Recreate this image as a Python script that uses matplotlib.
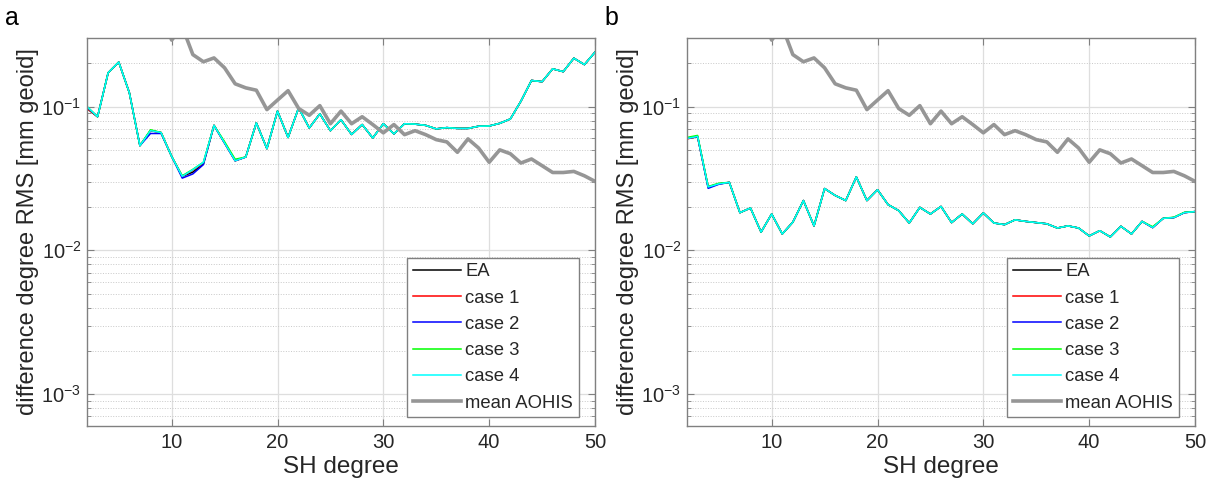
import matplotlib
matplotlib.use('Agg')
import matplotlib.pyplot as plt
from matplotlib.ticker import LogLocator, NullFormatter, MultipleLocator

plt.rcParams['font.family'] = ['Liberation Sans', 'DejaVu Sans']
plt.rcParams['mathtext.fontset'] = 'custom'
plt.rcParams['mathtext.rm'] = 'Liberation Sans'
plt.rcParams['mathtext.it'] = 'Liberation Sans:italic'

degree = list(range(2, 51))

# panel a
ea_a = [0.097, 0.085, 0.172, 0.204, 0.125, 0.0535, 0.068, 0.066, 0.045, 0.0327,
        0.035, 0.040, 0.074, 0.0558, 0.042, 0.0446, 0.077, 0.051, 0.093, 0.061,
        0.098, 0.071, 0.089, 0.068, 0.081, 0.064, 0.075, 0.0605, 0.076, 0.0646,
        0.076, 0.0755, 0.074, 0.070, 0.0714, 0.0705, 0.0705, 0.073, 0.0733, 0.0765,
        0.082, 0.109, 0.152, 0.149, 0.183, 0.175, 0.217, 0.196, 0.239]
case1_a = [0.097, 0.085, 0.172, 0.204, 0.125, 0.0535, 0.068, 0.066, 0.045, 0.0327,
           0.0362, 0.0405, 0.074, 0.0558, 0.042, 0.0446, 0.077, 0.051, 0.093, 0.061,
           0.098, 0.071, 0.089, 0.068, 0.081, 0.064, 0.075, 0.0605, 0.076, 0.0646,
           0.076, 0.0755, 0.074, 0.070, 0.0714, 0.0705, 0.0705, 0.073, 0.0733, 0.0765,
           0.082, 0.109, 0.152, 0.149, 0.183, 0.175, 0.217, 0.196, 0.239]
case2_a = [0.099, 0.085, 0.172, 0.204, 0.125, 0.0535, 0.065, 0.065, 0.045, 0.0318,
           0.034, 0.0395, 0.074, 0.0558, 0.042, 0.0446, 0.077, 0.051, 0.093, 0.061,
           0.098, 0.071, 0.089, 0.068, 0.081, 0.064, 0.075, 0.0605, 0.076, 0.0646,
           0.076, 0.0755, 0.074, 0.070, 0.0714, 0.0705, 0.0705, 0.073, 0.0733, 0.0765,
           0.082, 0.109, 0.152, 0.149, 0.183, 0.175, 0.217, 0.196, 0.239]
case3_a = [0.100, 0.085, 0.172, 0.204, 0.125, 0.0535, 0.069, 0.066, 0.045, 0.0330,
           0.0366, 0.041, 0.074, 0.057, 0.043, 0.0446, 0.077, 0.051, 0.093, 0.061,
           0.098, 0.071, 0.089, 0.068, 0.081, 0.064, 0.075, 0.0605, 0.076, 0.0646,
           0.076, 0.0755, 0.074, 0.070, 0.0714, 0.0705, 0.0705, 0.073, 0.0733, 0.0765,
           0.082, 0.109, 0.152, 0.149, 0.183, 0.175, 0.217, 0.196, 0.239]
case4_a = [0.100, 0.085, 0.172, 0.204, 0.125, 0.0535, 0.068, 0.066, 0.045, 0.0327,
           0.0364, 0.041, 0.074, 0.0558, 0.042, 0.0446, 0.077, 0.051, 0.093, 0.061,
           0.098, 0.071, 0.089, 0.068, 0.081, 0.064, 0.075, 0.0605, 0.076, 0.0646,
           0.076, 0.0755, 0.074, 0.070, 0.0714, 0.0705, 0.0705, 0.073, 0.0733, 0.0765,
           0.082, 0.109, 0.152, 0.149, 0.183, 0.175, 0.217, 0.196, 0.239]

# panel b
ea_b = [0.060, 0.0615, 0.0276, 0.029, 0.0297, 0.0183, 0.0197, 0.0134, 0.0179, 0.0130,
        0.0157, 0.0222, 0.0148, 0.0269, 0.0241, 0.0222, 0.0324, 0.0222, 0.0264, 0.0208,
        0.0189, 0.0155, 0.0199, 0.0179, 0.0202, 0.0156, 0.0179, 0.0153, 0.0182, 0.0155,
        0.0151, 0.0163, 0.0159, 0.0156, 0.0153, 0.0143, 0.0148, 0.0143, 0.0126, 0.0137,
        0.0124, 0.0147, 0.0130, 0.0159, 0.0144, 0.0167, 0.0169, 0.0183, 0.0186]
case1_b = [0.0595, 0.062, 0.0276, 0.029, 0.0297, 0.0183, 0.0197, 0.0134, 0.0179, 0.0130,
           0.0157, 0.0222, 0.0148, 0.0269, 0.0241, 0.0222, 0.0324, 0.0222, 0.0264, 0.0208,
           0.0189, 0.0155, 0.0199, 0.0179, 0.0202, 0.0156, 0.0179, 0.0153, 0.0182, 0.0155,
           0.0151, 0.0163, 0.0159, 0.0156, 0.0153, 0.0143, 0.0148, 0.0143, 0.0126, 0.0137,
           0.0124, 0.0147, 0.0130, 0.0159, 0.0144, 0.0167, 0.0169, 0.0183, 0.0186]
case2_b = [0.060, 0.062, 0.0270, 0.0288, 0.0297, 0.0183, 0.0197, 0.0134, 0.0179, 0.0130,
           0.0157, 0.0222, 0.0148, 0.0269, 0.0241, 0.0222, 0.0324, 0.0222, 0.0264, 0.0208,
           0.0189, 0.0155, 0.0199, 0.0179, 0.0202, 0.0156, 0.0179, 0.0153, 0.0182, 0.0155,
           0.0151, 0.0163, 0.0159, 0.0156, 0.0153, 0.0143, 0.0148, 0.0143, 0.0126, 0.0137,
           0.0124, 0.0147, 0.0130, 0.0159, 0.0144, 0.0167, 0.0169, 0.0183, 0.0186]
case3_b = [0.061, 0.063, 0.0278, 0.0293, 0.0297, 0.0183, 0.0197, 0.0134, 0.0179, 0.0130,
           0.0157, 0.0222, 0.0148, 0.0269, 0.0241, 0.0222, 0.0324, 0.0222, 0.0264, 0.0208,
           0.0189, 0.0155, 0.0199, 0.0179, 0.0202, 0.0156, 0.0179, 0.0153, 0.0182, 0.0155,
           0.0151, 0.0163, 0.0159, 0.0156, 0.0153, 0.0143, 0.0148, 0.0143, 0.0126, 0.0137,
           0.0124, 0.0147, 0.0130, 0.0159, 0.0146, 0.0167, 0.0170, 0.0184, 0.0186]
case4_b = [0.060, 0.062, 0.0276, 0.029, 0.0297, 0.0183, 0.0197, 0.0134, 0.0179, 0.0130,
           0.0157, 0.0222, 0.0148, 0.0269, 0.0241, 0.0222, 0.0324, 0.0222, 0.0264, 0.0208,
           0.0189, 0.0155, 0.0199, 0.0179, 0.0202, 0.0156, 0.0179, 0.0153, 0.0182, 0.0155,
           0.0151, 0.0163, 0.0159, 0.0156, 0.0153, 0.0143, 0.0148, 0.0143, 0.0126, 0.0137,
           0.0124, 0.0147, 0.0130, 0.0159, 0.0144, 0.0167, 0.0169, 0.0183, 0.0186]

# mean AOHIS signal, same in both panels
mean_aohis = [2.2, 1.6, 1.2, 0.95, 0.8, 0.65, 0.55, 0.45, 0.29, 0.36,
              0.230, 0.205, 0.218, 0.186, 0.144, 0.135, 0.130, 0.0953, 0.111, 0.129,
              0.097, 0.087, 0.1015, 0.076, 0.093, 0.076, 0.085, 0.075, 0.0657, 0.075,
              0.0638, 0.068, 0.0638, 0.0589, 0.0568, 0.0481, 0.0596, 0.0515, 0.041, 0.050,
              0.047, 0.0405, 0.0432, 0.0388, 0.0348, 0.0348, 0.0354, 0.033, 0.0302]

labels = ['EA', 'case 1', 'case 2', 'case 3', 'case 4', 'mean AOHIS']
colors = ['#000000', '#ff0000', '#0000ff', '#00ff00', '#00ffff', '#969696']

W, H = 1215, 497
fig = plt.figure(figsize=(W / 100, H / 100), dpi=100)

edge = '#808080'
txt = '#262626'


def panel(left_px, series, letter, letter_x):
    ax = fig.add_axes([left_px / W, (H - 426) / H, 508 / W, 388 / H])
    for vals, lab, c in zip(series, labels[:5], colors[:5]):
        ax.plot(degree, vals, color=c, lw=1.1, label=lab)
    ax.plot(degree, mean_aohis, color=colors[5], lw=2.6, label=labels[5])

    ax.set_yscale('log')
    ax.set_xlim(2, 50)
    ax.set_ylim(6e-4, 0.3)
    ax.xaxis.set_major_locator(MultipleLocator(10))
    ax.yaxis.set_major_locator(LogLocator(base=10, numticks=10))
    ax.yaxis.set_minor_locator(LogLocator(base=10, subs=range(2, 10), numticks=20))
    ax.yaxis.set_minor_formatter(NullFormatter())

    ax.grid(True, which='major', color='#dedede', lw=0.9, ls='-')
    ax.grid(True, which='minor', axis='y', color='#c8c8c8', lw=0.7, ls=':')
    ax.set_axisbelow(True)

    for s in ax.spines.values():
        s.set_color(edge)
        s.set_linewidth(1.0)
    ax.tick_params(which='both', direction='in', top=True, right=True,
                   color=edge, labelcolor=txt, labelsize=14.5)
    ax.tick_params(which='major', length=5)
    ax.tick_params(which='minor', length=3)
    ax.tick_params(axis='x', pad=5)
    ax.tick_params(axis='y', pad=4)

    ax.set_xlabel('SH degree', fontsize=17.5, color=txt, labelpad=3)
    ax.set_ylabel('difference degree RMS [mm geoid]', fontsize=17, color=txt, labelpad=2)

    leg = ax.legend(loc='lower right', bbox_to_anchor=(0.968, 0.023), fontsize=13.3,
                    frameon=True, fancybox=False, framealpha=1, edgecolor=edge,
                    handlelength=2.6, handletextpad=0.25, labelspacing=0.5,
                    borderpad=0.3, borderaxespad=0)
    leg.get_frame().set_linewidth(1.0)
    for t in leg.get_texts():
        t.set_color(txt)

    fig.text(letter_x / W, 1 - 18 / H, letter, fontsize=18, color='#000000',
             ha='center', va='center')
    return ax


panel(87, [ea_a, case1_a, case2_a, case3_a, case4_a], 'a', 12)
panel(687, [ea_b, case1_b, case2_b, case3_b, case4_b], 'b', 611)

fig.savefig('out.png', dpi=100)
